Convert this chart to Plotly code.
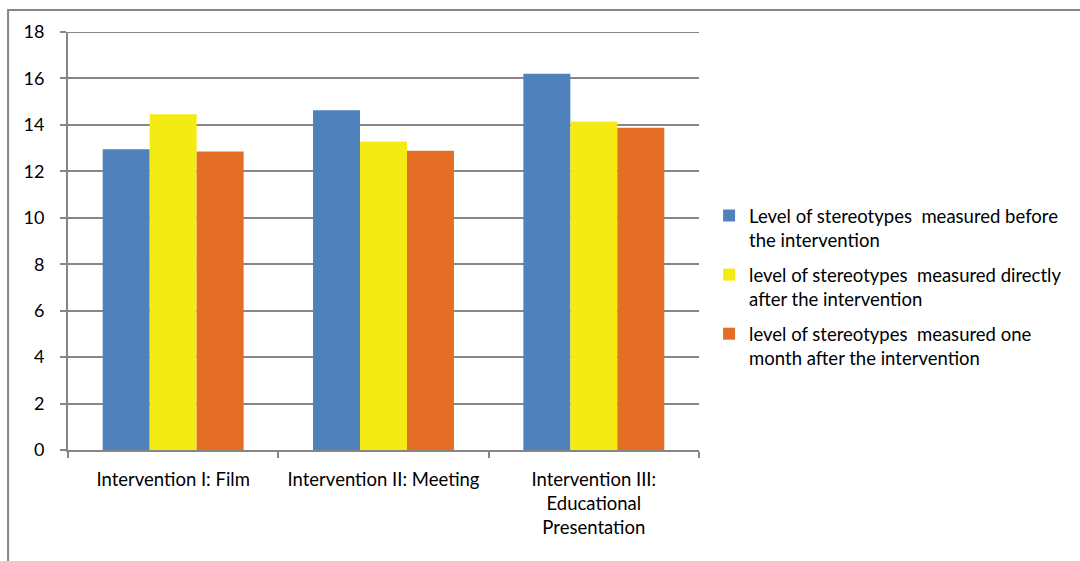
import plotly.graph_objects as go

categories = [
    "Intervention I: Film",
    "Intervention II: Meeting",
    "Intervention III:<br>Educational<br>Presentation",
]
series_names = [
    "Level of stereotypes  measured before<br>the intervention",
    "level of stereotypes  measured directly<br>after the intervention",
    "level of stereotypes  measured one<br>month after the intervention",
]
before = [12.95, 14.63, 16.2]
directly_after = [14.46, 13.29, 14.15]
month_after = [12.85, 12.89, 13.88]
colors = ["#4F81BD", "#F5EB14", "#E46E26"]
y_max = 18

fig = go.Figure()
for i, (name, vals, col) in enumerate(zip(series_names, [before, directly_after, month_after], colors)):
    fig.add_trace(go.Bar(
        x=categories, y=vals, name=name, legendgroup=f"g{i}",
        marker=dict(color=col, line=dict(width=0)),
    ))

font_family = "Lato, 'Open Sans', sans-serif"
grid = "#868686"
fig.update_layout(
    width=1080, height=561,
    margin=dict(l=68, r=381, t=32, b=111),
    paper_bgcolor="white", plot_bgcolor="white",
    barmode="group", bargap=0.33, bargroupgap=0,
    font=dict(family=font_family, size=18, color="#000000"),
    legend=dict(
        x=1.016, y=0.39, xanchor="left", yanchor="middle",
        font=dict(size=18.5), tracegroupgap=8, valign="top",
        itemwidth=30, bgcolor="rgba(0,0,0,0)",
    ),
    xaxis=dict(
        showline=True, linecolor=grid, linewidth=2,
        ticks="outside", tickson="boundaries", ticklen=6,
        tickcolor=grid, tickwidth=2, ticklabelstandoff=12,
        showgrid=False, tickfont=dict(size=18.5),
    ),
    yaxis=dict(
        range=[0, y_max], tickvals=list(range(0, y_max + 1, 2)),
        showline=True, linecolor=grid, linewidth=2,
        ticks="outside", ticklen=6, tickcolor=grid, tickwidth=2,
        ticklabelstandoff=12,
        showgrid=True, gridcolor=grid, gridwidth=2,
        zeroline=False, tickfont=dict(size=18),
    ),
    shapes=[
        # outer chart frame
        dict(type="rect", xref="paper", yref="paper",
             x0=-0.095, x1=1.75, y0=-0.6, y1=1.0526,
             line=dict(color=grid, width=2), fillcolor="rgba(0,0,0,0)",
             layer="below"),
        # top gridline at the axis maximum
        dict(type="line", xref="paper", yref="y",
             x0=0, x1=1, y0=y_max, y1=y_max,
             line=dict(color=grid, width=2), layer="below"),
    ],
)

fig.write_html("out.html")
